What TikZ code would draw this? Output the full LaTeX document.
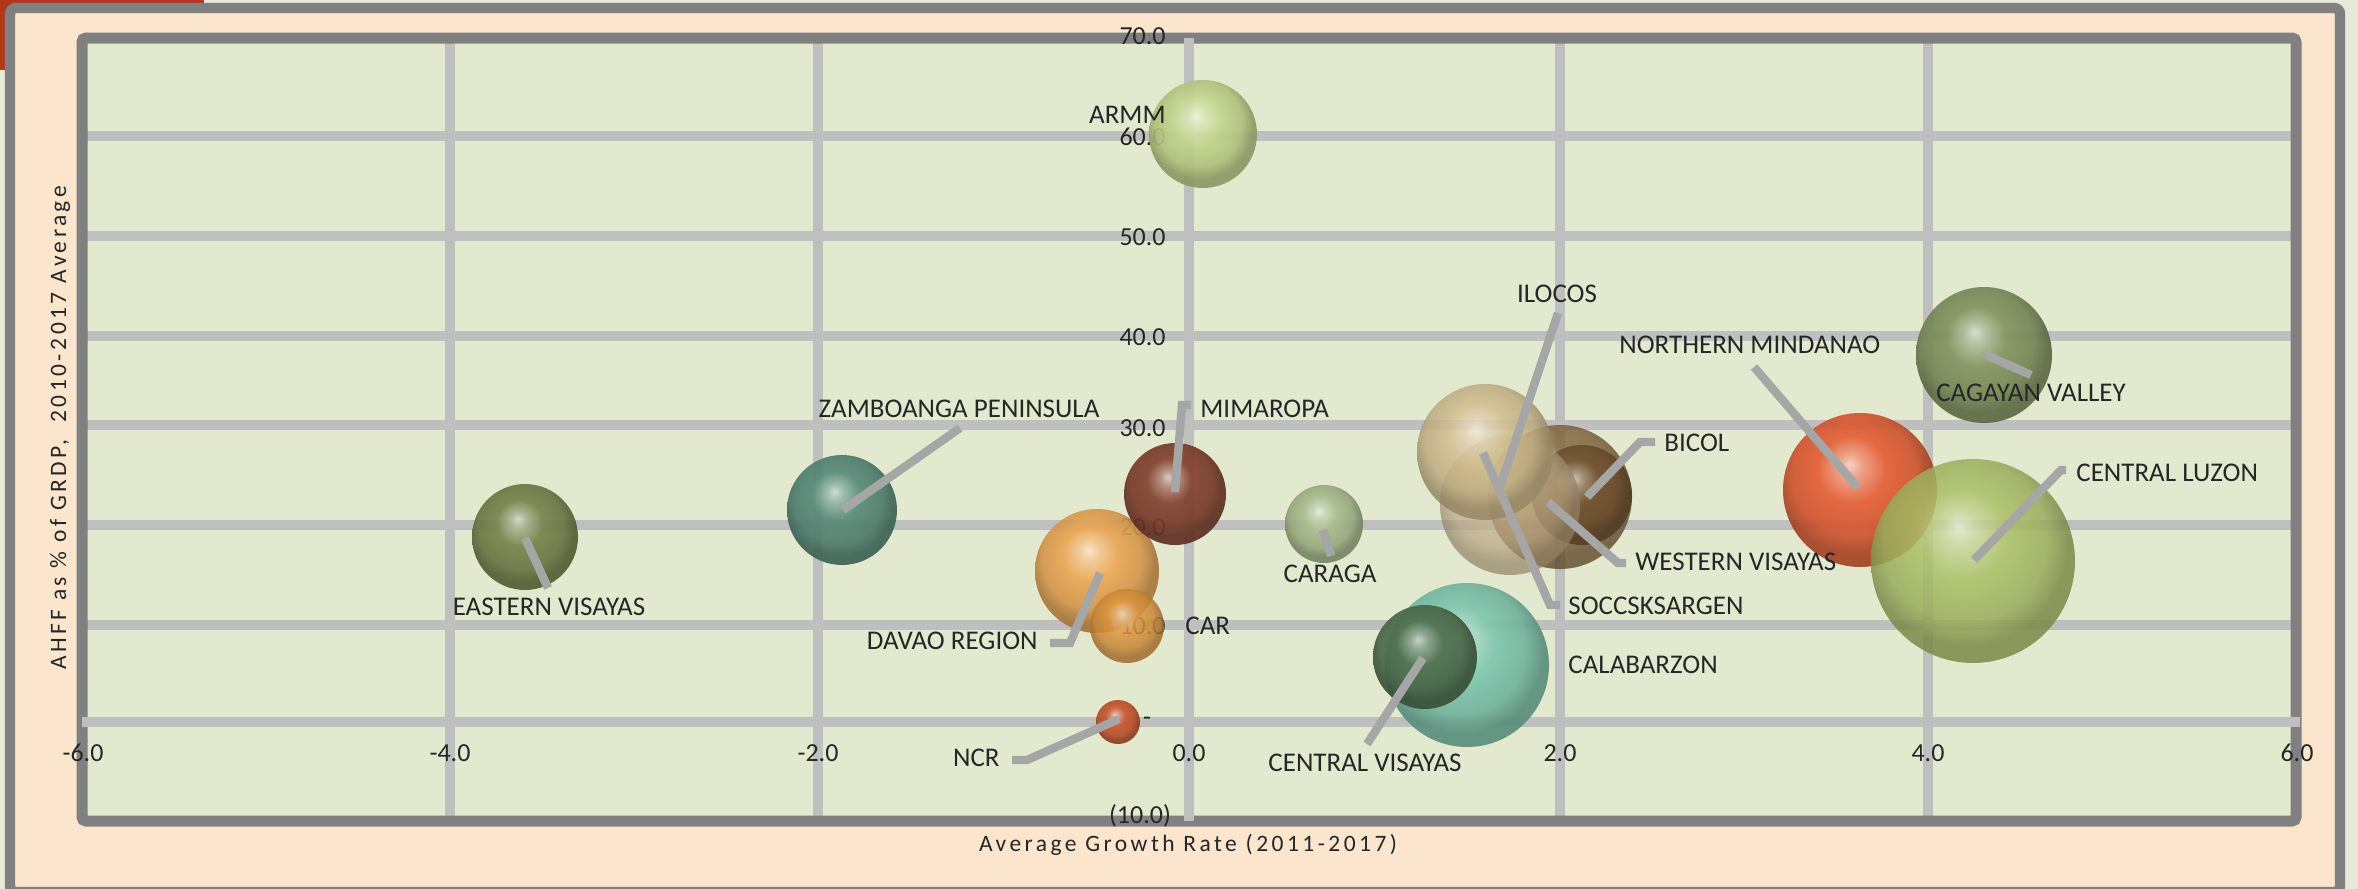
\documentclass[tikz,border=0pt]{standalone}
\usepackage{fontspec}
\setmainfont{Carlito}
\newfontfamily\titlefont[LetterSpace=14.7]{Carlito}
\definecolor{bgc}{HTML}{E6EAD8}
\definecolor{redc}{HTML}{B0391B}
\definecolor{peach}{HTML}{FBE5CD}
\definecolor{plotc}{HTML}{E3E9CF}
\definecolor{gridc}{HTML}{BFBFBF}
\definecolor{framec}{HTML}{808080}
\definecolor{leadc}{HTML}{A6A6A6}
\definecolor{txtc}{HTML}{262626}
\definecolor{evc}{HTML}{76834B}
\definecolor{zpc}{HTML}{578A79}
\definecolor{dvc}{HTML}{EBA755}
\definecolor{carc}{HTML}{DD953C}
\definecolor{mmc}{HTML}{84412F}
\definecolor{armmc}{HTML}{C4D68C}
\definecolor{ncrc}{HTML}{C8562F}
\definecolor{crgc}{HTML}{A8BC8C}
\definecolor{cbzc}{HTML}{7FC7AF}
\definecolor{cvc}{HTML}{50704F}
\definecolor{wvc}{HTML}{846439}
\definecolor{bclc}{HTML}{6E4F2C}
\definecolor{sccc}{HTML}{CBB68E}
\definecolor{ilcc}{HTML}{D1BD8E}
\definecolor{nmc}{HTML}{E55E35}
\definecolor{clc}{HTML}{ABC066}
\definecolor{cgvc}{HTML}{82955F}
\colorlet{bubc}{red}
\pgfdeclareradialshading[bubc]{bubble}{\pgfpoint{-3.5bp}{8.5bp}}{color(0bp)=(bubc!30!white); color(4bp)=(bubc!62!white); color(11bp)=(bubc); color(20bp)=(bubc!90!black); color(25bp)=(bubc!72!black); color(50bp)=(bubc!72!black)}
% \bub{name}{x}{y}{r}{colour}{opacity}
\newcommand\bub[6]{\colorlet{bubc}{#5}\shade[shading=bubble,fill opacity=#6] (#2,-#3) circle[radius=#4];\coordinate (#1) at (#2,-#3);}
\begin{document}
\begin{tikzpicture}[x=0.5pt,y=0.5pt,
  lbl/.style={font=\fontsize{13.5}{16}\selectfont, text=txtc, inner sep=0pt},
  ticklbl/.style={font=\fontsize{13}{15}\selectfont, text=txtc, inner sep=0pt},
  axtitle/.style={font=\titlefont\fontsize{11.75}{14}\selectfont, text=txtc, inner sep=0pt},
  gridln/.style={draw=gridc, line width=4.8pt},
  leader/.style={draw=leadc, line width=4.2pt}]
\useasboundingbox (0,0) rectangle (2358,-889);
% background and outer frame
\fill[bgc] (0,0) rectangle (2358,-889);
\fill[redc] (0,0) rectangle (204,-70);
\draw[framec, line width=5.2pt, fill=peach, rounded corners=3pt] (10,-8) rectangle (2340,-892);
% plot area
\fill[plotc] (82,-38) rectangle (2296,-821);
\foreach \gx in {450,818,1560,1928} \draw[gridln] (\gx,-38) -- (\gx,-821);
\foreach \gy in {136,236,336,425,525,625} \draw[gridln] (82,-\gy) -- (2296,-\gy);
\draw[framec, line width=5.5pt, rounded corners=2pt] (82,-38) rectangle (2296,-821);
\draw[gridln] (82,-722) -- (2300,-722);
\draw[gridln] (1189,-38) -- (1189,-821);
% tick labels
\node[ticklbl, anchor=east] (y70) at (1166,-36) {70.0};
\node[ticklbl, anchor=east] (y60) at (1166,-137) {60.0};
\node[ticklbl, anchor=east] (y50) at (1166,-237) {50.0};
\node[ticklbl, anchor=east] (y40) at (1166,-337) {40.0};
\node[ticklbl, anchor=east] (y30) at (1166,-428) {30.0};
\node[ticklbl, anchor=east] (y20) at (1166,-527) {20.0};
\node[ticklbl, anchor=east] (y10) at (1166,-626) {10.0};
\node[ticklbl] (y0) at (1147,-721) {-};
\node[ticklbl] (ym10) at (1140,-816) {(10.0)};
\node[ticklbl] (xm6) at (83,-753) {-6.0};
\node[ticklbl] (xm4) at (450,-753) {-4.0};
\node[ticklbl] (xm2) at (818,-753) {-2.0};
\node[ticklbl] (x0) at (1189,-753) {0.0};
\node[ticklbl] (x2) at (1560,-753) {2.0};
\node[ticklbl] (x4) at (1928,-753) {4.0};
\node[ticklbl] (x6) at (2297,-753) {6.0};
% axis titles
\node[axtitle] (xtitle) at (1188,-845) {Average Growth Rate (2011-2017)};
\node[axtitle, rotate=90] (ytitle) at (60,-428) {AHFF as \% of GRDP,\ \ 2010-2017 Average};
% bubbles
\bub{ev}{525}{537}{53}{evc}{0.92}
\bub{zp}{842}{510}{55}{zpc}{0.92}
\bub{dv}{1097}{571}{62}{dvc}{0.92}
\bub{car}{1127}{626}{37}{carc}{0.85}
\bub{mm}{1175}{494}{51}{mmc}{0.92}
\bub{armm}{1203}{134}{54}{armmc}{0.92}
\bub{ncr}{1118}{722}{22}{ncrc}{0.92}
\bub{crg}{1324}{524}{39}{crgc}{0.92}
\bub{cbz}{1467}{665}{82}{cbzc}{0.92}
\bub{cv}{1425}{657}{52}{cvc}{0.92}
\bub{wv}{1560}{497}{72}{wvc}{0.8}
\bub{bcl}{1582}{495}{50}{bclc}{0.8}
\bub{scc}{1510}{505}{70}{sccc}{0.7}
\bub{ilc}{1485}{452}{68}{ilcc}{0.85}
\bub{nm}{1860}{490}{77}{nmc}{0.92}
\bub{cl}{1973}{561}{102}{clc}{0.85}
\bub{cgv}{1984}{355}{68}{cgvc}{0.92}
% leader line points
\coordinate (ev-p) at (525,-538);   \coordinate (ev-e) at (548,-588);
\coordinate (zp-p) at (843,-510);   \coordinate (zp-e) at (960,-428);
\coordinate (dv-p) at (1100,-573);  \coordinate (dv-k) at (1070,-643); \coordinate (dv-e) at (1050,-643);
\coordinate (mm-p) at (1175,-492);  \coordinate (mm-k) at (1182,-405); \coordinate (mm-e) at (1191,-405);
\coordinate (ncr-p) at (1119,-719); \coordinate (ncr-k) at (1027,-760); \coordinate (ncr-e) at (1012,-760);
\coordinate (crg-p) at (1323,-530); \coordinate (crg-e) at (1331,-556);
\coordinate (cv-p) at (1423,-658);  \coordinate (cv-e) at (1367,-744);
\coordinate (ilc-p) at (1500,-487); \coordinate (ilc-e) at (1558,-313);
\coordinate (scc-p) at (1483,-453); \coordinate (scc-k) at (1550,-605); \coordinate (scc-e) at (1560,-605);
\coordinate (wv-p) at (1548,-502);  \coordinate (wv-k) at (1618,-563); \coordinate (wv-e) at (1626,-563);
\coordinate (bcl-p) at (1587,-497); \coordinate (bcl-k) at (1640,-442); \coordinate (bcl-e) at (1655,-442);
\coordinate (nm-p) at (1858,-488);  \coordinate (nm-e) at (1754,-367);
\coordinate (cgv-p) at (1984,-354); \coordinate (cgv-e) at (2031,-375);
\coordinate (cl-p) at (1974,-560);  \coordinate (cl-k) at (2061,-470); \coordinate (cl-e) at (2066,-470);
% leaders
\draw[leader] (ev-p) -- (ev-e);
\draw[leader] (zp-p) -- (zp-e);
\draw[leader] (dv-p) -- (dv-k) -- (dv-e);
\draw[leader] (mm-p) -- (mm-k) -- (mm-e);
\draw[leader] (ncr-p) -- (ncr-k) -- (ncr-e);
\draw[leader] (crg-p) -- (crg-e);
\draw[leader] (cv-p) -- (cv-e);
\draw[leader] (ilc-p) -- (ilc-e);
\draw[leader] (scc-p) -- (scc-k) -- (scc-e);
\draw[leader] (wv-p) -- (wv-k) -- (wv-e);
\draw[leader] (bcl-p) -- (bcl-k) -- (bcl-e);
\draw[leader] (nm-p) -- (nm-e);
\draw[leader] (cgv-p) -- (cgv-e);
\draw[leader] (cl-p) -- (cl-k) -- (cl-e);
% labels
\node[lbl] (ev-l) at (549,-607) {EASTERN VISAYAS};
\node[lbl] (zp-l) at (959,-409) {ZAMBOANGA PENINSULA};
\node[lbl, anchor=east] (dv-l) at (1038,-641) {DAVAO REGION};
\node[lbl, anchor=west] (car-l) at (1185,-626) {CAR};
\node[lbl, anchor=west] (mm-l) at (1200,-409) {MIMAROPA};
\node[lbl, anchor=east] (armm-l) at (1166,-115) {ARMM};
\node[lbl, anchor=east] (ncr-l) at (1000,-758) {NCR};
\node[lbl] (crg-l) at (1330,-574) {CARAGA};
\node[lbl] (cv-l) at (1365,-763) {CENTRAL VISAYAS};
\node[lbl, anchor=west] (cbz-l) at (1568,-665) {CALABARZON};
\node[lbl] (ilc-l) at (1557,-294) {ILOCOS};
\node[lbl, anchor=west] (scc-l) at (1568,-606) {SOCCSKSARGEN};
\node[lbl, anchor=west] (wv-l) at (1635,-562) {WESTERN VISAYAS};
\node[lbl, anchor=west] (bcl-l) at (1664,-443) {BICOL};
\node[lbl, anchor=west] (nm-l) at (1619,-345) {NORTHERN MINDANAO};
\node[lbl] (cgv-l) at (2031,-393) {CAGAYAN VALLEY};
\node[lbl, anchor=west] (cl-l) at (2076,-473) {CENTRAL LUZON};
\end{tikzpicture}
\end{document}
